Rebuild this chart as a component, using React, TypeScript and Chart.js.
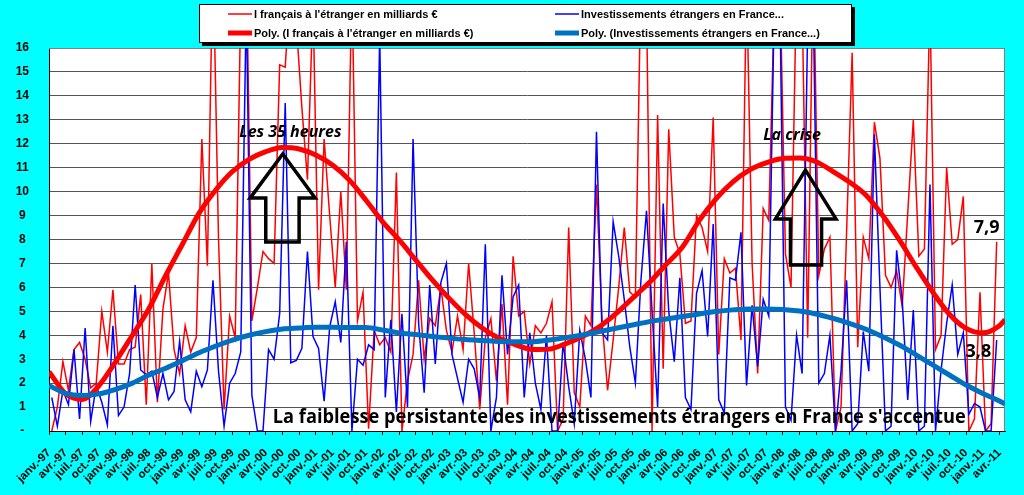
import { useEffect, useRef } from "react";
import { Chart, registerables, type Plugin } from "chart.js";

Chart.register(...registerables);

// one label every 3 months, janv.-97 .. avr.-11
const tickLabels = [
  "janv.-97", "avr.-97", "juil.-97", "oct.-97",
  "janv.-98", "avr.-98", "juil.-98", "oct.-98",
  "janv.-99", "avr.-99", "juil.-99", "oct.-99",
  "janv.-00", "avr.-00", "juil.-00", "oct.-00",
  "janv.-01", "avr.-01", "juil.-01", "oct.-01",
  "janv.-02", "avr.-02", "juil.-02", "oct.-02",
  "janv.-03", "avr.-03", "juil.-03", "oct.-03",
  "janv.-04", "avr.-04", "juil.-04", "oct.-04",
  "janv.-05", "avr.-05", "juil.-05", "oct.-05",
  "janv.-06", "avr.-06", "juil.-06", "oct.-06",
  "janv.-07", "avr.-07", "juil.-07", "oct.-07",
  "janv.-08", "avr.-08", "juil.-08", "oct.-08",
  "janv.-09", "avr.-09", "juil.-09", "oct.-09",
  "janv.-10", "avr.-10", "juil.-10", "oct.-10",
  "janv.-11", "avr.-11",
];

// monthly values, janv.-97 .. mars-11 (milliards €)
const investFrance = [
  0, 1.0, 2.9, 1.7, 3.4, 3.7, 3.0, 1.8, 2.0, 5.0, 3.3, 5.9,
  2.8, 2.8, 3.4, 3.5, 5.7, 1.1, 7.0, 1.2, 5.1, 6.6, 3.4, 2.4,
  4.4, 3.3, 3.9, 12.2, 6.9, 20, 8, 0.9, 4.8, 3.9, 18, 20,
  4.6, 6.0, 7.5, 7.2, 7.0, 15.3, 15.2, 19, 17, 13.5, 10.5, 18,
  5.9, 12.2, 9.0, 6.0, 10.0, 5.9, 19, 4.6, 5.8, 0.1, 4.2, 3.6,
  3.9, 3.3, 10.8, 0, 2.1, 3.2, 6.3, 3.0, 4.7, 4.4, 6.0, 4.2,
  3.3, 4.8, 3.4, 7.0, 4.1, 0.9, 3.9, 4.7, 2.1, 5.3, 1.1, 7.3,
  4.8, 5.0, 2.8, 4.4, 4.1, 4.5, 5.4, 0, 0.5, 8.5, 1.6, 1.0,
  4.8, 4.4, 10.3, 4.6, 1.7, 3.8, 6.0, 8.5, 5.8, 5.6, 19, 18,
  0, 13.2, 2.6, 12.6, 8.1, 7.4, 4.5, 4.6, 9.0, 8.5, 7.5, 13.1,
  3.2, 7.2, 6.6, 6.8, 3.8, 19, 7.0, 2.4, 9.3, 8.8, 18, 19,
  7.4, 6.0, 19, 18, 3.9, 20, 6.5, 7.6, 8.1, 0, 1.0, 8.3,
  15.8, 3.5, 8.1, 7.2, 12.9, 11.4, 6.5, 6.0, 6.7, 5.2, 9.1, 13.0,
  7.3, 7.6, 18, 3.4, 4.0, 11.0, 7.8, 8.0, 9.8, 0, 0.5, 5.8,
  0, 0.3, 7.9,
];

const investEtrangers = [
  1.4, 0.2, 1.7, 1.1, 3.4, 0.5, 4.3, 0.4, 1.9, 1.2, 0.25, 4.4,
  0.65, 1.0, 2.4, 6.1, 2.55, 2.35, 2.5, 1.4, 2.4, 1.3, 1.65, 3.75,
  1.3, 0.8, 2.5, 1.85, 2.55, 6.3, 2.5, 0.2, 2.0, 2.4, 3.3, 18,
  1.5, 0, 0, 3.4, 3.0, 4.9, 13.7, 2.85, 2.95, 3.45, 7.5, 3.95,
  3.45, 1.25, 4.35, 5.4, 3.7, 7.9, 0, 3.0, 2.75, 3.6, 3.4, 16.5,
  1.4, 4.65, 0.8, 4.9, 1.0, 12.2, 4.5, 1.6, 6.1, 2.8, 6.2, 7.0,
  3.2, 2.2, 1.2, 3.0, 2.6, 1.4, 7.8, 0, 1.4, 6.5, 3.2, 5.6,
  6.1, 1.4, 4.1, 2.0, 0.9, 4.0, 0, 0, 3.7, 1.85, 0.3, 4.2,
  3.0, 1.4, 12.5, 4.1, 3.8, 8.75, 7.3, 5.5, 3.5, 2.0, 6.3, 9.2,
  5.0, 1.0, 9.5, 5.0, 2.9, 6.4, 1.4, 0.9, 5.75, 6.7, 3.95, 8.65,
  1.3, 0.75, 6.4, 6.3, 8.3, 1.9, 5.25, 2.7, 5.5, 4.8, 18, 18,
  1.0, 0.45, 4.0, 2.4, 17, 18, 2.0, 2.4, 4.0, 0, 2.5, 6.3,
  0, 0.3, 4.15, 2.5, 12.4, 6.0, 0, 0.2, 7.55, 5.5, 1.3, 5.05,
  0, 0.2, 10.3, 0, 2.55, 4.5, 6.1, 3.2, 4.1, 0.7, 1.15, 1.0,
  0, 0, 3.8,
];

// polynomial trendlines read at each quarter tick, plus the right edge
const polyFrance = [
  2.48, 1.55, 1.32, 1.9, 2.9, 4.0, 5.12, 6.5, 7.8, 9.1,
  10.07, 10.84, 11.35, 11.67, 11.84, 11.78, 11.53, 11.11, 10.49, 9.65,
  8.75, 7.98, 7.14, 6.3, 5.54, 4.85, 4.29, 3.87, 3.6, 3.4,
  3.42, 3.65, 3.95, 4.35, 4.9, 5.55, 6.2, 6.95, 7.7, 8.8,
  9.7, 10.4, 10.9, 11.2, 11.38, 11.4, 11.25, 10.85, 10.4, 9.85,
  9.0, 7.98, 6.86, 5.8, 4.88, 4.29, 4.1, 4.4, 4.65,
];

const polyEtrangers = [
  1.9, 1.57, 1.48, 1.55, 1.74, 2.0, 2.34, 2.62, 2.94, 3.27,
  3.55, 3.8, 4.0, 4.15, 4.26, 4.3, 4.33, 4.33, 4.32, 4.32,
  4.22, 4.1, 4.03, 3.95, 3.88, 3.82, 3.78, 3.74, 3.73, 3.73,
  3.8, 3.9, 4.01, 4.15, 4.29, 4.43, 4.57, 4.68, 4.78, 4.89,
  4.99, 5.06, 5.1, 5.1, 5.08, 5.01, 4.89, 4.71, 4.5, 4.25,
  3.94, 3.59, 3.18, 2.76, 2.34, 1.92, 1.57, 1.25, 1.13,
];

const seriesLabels = [
  "I français à l'étranger en milliards €",
  "Investissements étrangers en France...",
  "Poly. (I français à l'étranger en milliards €)",
  "Poly. (Investissements étrangers en France...)",
];

const arrows = [
  { tipX: 42.06, tipY: 11.57, headY: 9.73, headL: 36.18, headR: 47.88, shaftL: 39.0, shaftR: 45.0, baseY: 7.9 },
  { tipX: 136.1, tipY: 10.9, headY: 8.86, headL: 130.7, headR: 141.6, shaftL: 133.4, shaftR: 139.0, baseY: 6.93 },
];

const notes = [
  { text: "Les 35 heures", x: 43.44, y: 12.27, font: 'italic bold 16px "Open Sans"', width: 121 },
  { text: "La crise", x: 133.7, y: 12.16, font: 'italic bold 16px "Open Sans"', width: 66 },
  { text: "7,9", x: 168.7, y: 8.26, font: 'bold 18px "Open Sans"', width: 26 },
  { text: "3,8", x: 167.2, y: 3.1, font: 'bold 18px "Open Sans"', width: 26 },
  { text: "La faiblesse persistante des investissements étrangers en France s'accentue", x: 102.6, y: 0.35, font: 'bold 20px "Open Sans"', width: 693 },
];

const plotBackground: Plugin = {
  id: "plotBackground",
  beforeDraw(chart) {
    const { ctx, chartArea: a } = chart;
    ctx.save();
    ctx.fillStyle = "#ffffff";
    ctx.fillRect(a.left, a.top, a.right - a.left, a.bottom - a.top);
    ctx.restore();
  },
  beforeDatasetsDraw(chart) {
    const { ctx, chartArea: a } = chart;
    ctx.save();
    ctx.strokeStyle = "#808080";
    ctx.lineWidth = 1;
    ctx.beginPath();
    ctx.moveTo(a.left, a.top + 0.5);
    ctx.lineTo(a.right - 0.5, a.top + 0.5);
    ctx.lineTo(a.right - 0.5, a.bottom);
    ctx.stroke();
    ctx.restore();
  },
};

const annotations: Plugin = {
  id: "annotations",
  afterDatasetsDraw(chart) {
    const { ctx } = chart;
    const xs = chart.scales.x;
    const ys = chart.scales.y;
    ctx.save();
    ctx.strokeStyle = "#000";
    ctx.lineWidth = 3.5;
    ctx.lineJoin = "miter";
    for (const a of arrows) {
      const px = (v: number) => xs.getPixelForValue(v);
      const py = (v: number) => ys.getPixelForValue(v);
      ctx.beginPath();
      ctx.moveTo(px(a.tipX), py(a.tipY));
      ctx.lineTo(px(a.headR), py(a.headY));
      ctx.lineTo(px(a.shaftR), py(a.headY));
      ctx.lineTo(px(a.shaftR), py(a.baseY));
      ctx.lineTo(px(a.shaftL), py(a.baseY));
      ctx.lineTo(px(a.shaftL), py(a.headY));
      ctx.lineTo(px(a.headL), py(a.headY));
      ctx.closePath();
      ctx.stroke();
    }
    ctx.fillStyle = "#000";
    ctx.textAlign = "center";
    ctx.textBaseline = "alphabetic";
    for (const n of notes) {
      ctx.font = n.font;
      ctx.fillText(n.text, xs.getPixelForValue(n.x), ys.getPixelForValue(n.y), n.width);
    }
    ctx.restore();
  },
};

const boxLegend: Plugin = {
  id: "boxLegend",
  afterDraw(chart) {
    const { ctx } = chart;
    const left = 199, top = 4, w = 653, h = 39;
    ctx.save();
    ctx.fillStyle = "#000";
    ctx.fillRect(left + 3, top + 3, w, h);
    ctx.fillStyle = "#fff";
    ctx.fillRect(left, top, w, h);
    ctx.strokeStyle = "#000";
    ctx.lineWidth = 1;
    ctx.strokeRect(left + 0.5, top + 0.5, w - 1, h - 1);
    ctx.font = 'bold 11px "Liberation Sans", Arial';
    ctx.textBaseline = "middle";
    ctx.textAlign = "left";
    chart.data.datasets.forEach((ds: any, i) => {
      const col = i % 2;
      const row = Math.floor(i / 2);
      const sx = col === 0 ? 228 : 555;
      const y = row === 0 ? 14 : 33;
      ctx.strokeStyle = ds.borderColor;
      ctx.lineWidth = ds.borderWidth;
      ctx.beginPath();
      ctx.moveTo(sx, y);
      ctx.lineTo(sx + 24, y);
      ctx.stroke();
      ctx.fillStyle = "#000";
      ctx.fillText(ds.label, sx + 26, y + 0.5);
    });
    ctx.restore();
  },
};

export default function App() {
  const chartRef = useRef<HTMLCanvasElement>(null);

  useEffect(() => {
    document.body.style.margin = "0";
    document.body.style.background = "#00ffff";
    if (!chartRef.current) return;

    const monthly = (vals: number[]) => vals.map((v, i) => ({ x: i + 0.5, y: v }));
    const quarterly = (vals: number[]) =>
      vals.map((v, k) => ({ x: k < tickLabels.length ? k * 3 : 172, y: v }));

    const chart = new Chart(chartRef.current, {
      type: "line",
      data: {
        datasets: [
          {
            label: seriesLabels[0],
            data: monthly(investFrance),
            borderColor: "#ff0000",
            borderWidth: 1.5,
            pointRadius: 0,
            order: 4,
          },
          {
            label: seriesLabels[1],
            data: monthly(investEtrangers),
            borderColor: "#0000ff",
            borderWidth: 1.5,
            pointRadius: 0,
            order: 3,
          },
          {
            label: seriesLabels[2],
            data: quarterly(polyFrance),
            borderColor: "#ff0000",
            borderWidth: 5,
            pointRadius: 0,
            cubicInterpolationMode: "monotone",
            order: 2,
          },
          {
            label: seriesLabels[3],
            data: quarterly(polyEtrangers),
            borderColor: "#0070c0",
            borderWidth: 5,
            pointRadius: 0,
            cubicInterpolationMode: "monotone",
            order: 1,
          },
        ],
      },
      options: {
        animation: false,
        responsive: false,
        layout: { padding: { top: 48, right: 19, left: 0, bottom: 0 } },
        plugins: {
          legend: { display: false },
          tooltip: { enabled: false },
        },
        scales: {
          x: {
            type: "linear",
            min: 0,
            max: 172,
            afterFit: (s: any) => { s.height = 64; },
            afterBuildTicks: (s: any) => { s.ticks = s.ticks.filter((t: any) => t.value % 3 === 0 && t.value < 172); },
            ticks: {
              stepSize: 3,
              autoSkip: false,
              includeBounds: false,
              maxRotation: 45,
              minRotation: 45,
              padding: 11,
              color: "#000",
              font: { family: '"Liberation Sans", Arial', weight: "bold", size: 11.5 },
              callback: (v: any) => tickLabels[Math.round(v / 3)] ?? "",
            },
            grid: { drawOnChartArea: false, drawTicks: true, tickLength: 4, color: "#000" },
            border: { color: "#000", width: 1 },
          },
          y: {
            min: 0,
            max: 16,
            afterFit: (s: any) => { s.width = 49; },
            ticks: {
              stepSize: 1,
              padding: 20,
              crossAlign: "center",
              color: "#000",
              font: { family: '"Liberation Sans", Arial', weight: "bold", size: 12 },
              callback: (v: any) => (v === 0 ? "-" : String(v)),
            },
            grid: { color: "#555555", drawTicks: false },
            border: { color: "#000", width: 1 },
          },
        },
      },
      plugins: [plotBackground, annotations, boxLegend],
    } as any);

    return () => {
      chart.destroy();
    };
  }, []);

  return (
    <div style={{ position: "fixed", left: 0, top: 0, width: 1024, height: 495, background: "#00ffff" }}>
      <canvas ref={chartRef} width={1024} height={495}></canvas>
    </div>
  );
}
